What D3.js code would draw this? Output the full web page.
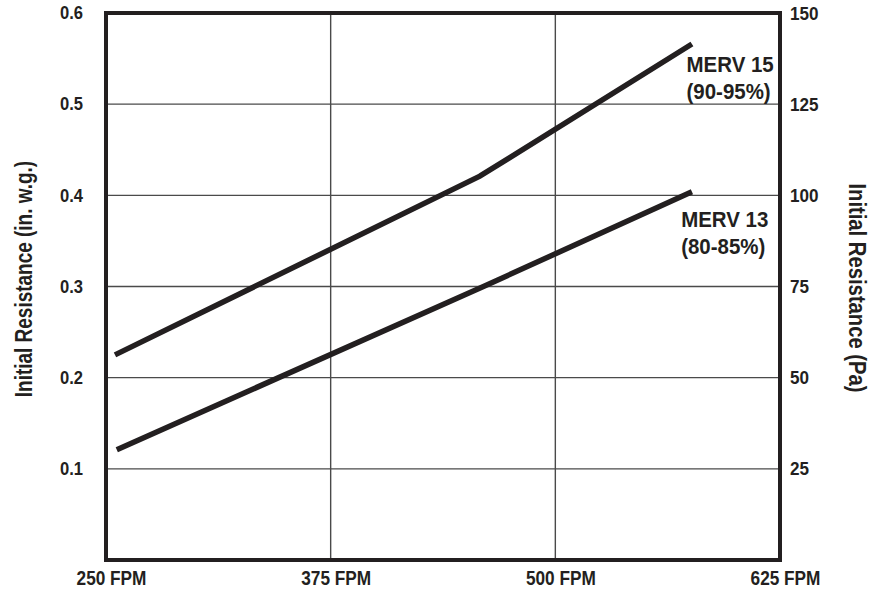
<!DOCTYPE html>
<html lang="en">
  <head>
    <meta charset="UTF-8" />
    <title>Initial Resistance vs Face Velocity</title>
    <script src="https://d3js.org/d3.v7.min.js"></script>
    <style>
      body { margin: 0; background: #fff; }
      text { font-family: "Liberation Sans", Arial, sans-serif; font-weight: bold; fill: #231f20; }
    </style>
  </head>
  <body>
    <div id="chart"></div>

    <script>
      // velocity ticks (FPM) and resistance ticks
      const xTicks = [250, 375, 500, 625];
      const yTicksIn = [0.1, 0.2, 0.3, 0.4, 0.5, 0.6];
      const yTicksPa = [25, 50, 75, 100, 125, 150];

      const merv15 = [
        { fpm: 255, wg: 0.225 },
        { fpm: 458, wg: 0.421 },
        { fpm: 576, wg: 0.566 },
      ];
      const merv13 = [
        { fpm: 256, wg: 0.121 },
        { fpm: 460, wg: 0.3 },
        { fpm: 576, wg: 0.404 },
      ];
      const labels = [
        { lines: ["MERV 15", "(90-95%)"], fpm: 573, wg: 0.535 },
        { lines: ["MERV 13", "(80-85%)"], fpm: 570, wg: 0.365 },
      ];

      const margin = { top: 13, right: 90, bottom: 32, left: 106 },
        width = 870 - margin.left - margin.right,
        height = 592 - margin.top - margin.bottom;

      // the original uses a condensed face; squeeze the regular one
      function condense(sel, k) {
        sel.each(function () {
          const w = this.getComputedTextLength();
          d3.select(this).attr("textLength", w * k).attr("lengthAdjust", "spacingAndGlyphs");
        });
      }

      const svg = d3
        .select("#chart")
        .append("svg")
        .attr("width", 870)
        .attr("height", 592)
        .append("g")
        .attr("transform", `translate(${margin.left},${margin.top})`);

      const x = d3.scaleLinear().domain([250, 625]).range([0, width]);
      const y = d3.scaleLinear().domain([0, 0.6]).range([height, 0]);
      const yPa = d3.scaleLinear().domain([0, 150]).range([height, 0]);

      // grid
      svg
        .append("g")
        .selectAll("line")
        .data(yTicksIn.slice(0, -1))
        .join("line")
        .attr("x1", 0)
        .attr("x2", width)
        .attr("y1", (d) => y(d))
        .attr("y2", (d) => y(d))
        .attr("stroke", "#4a4a4a")
        .attr("stroke-width", 1.4);
      svg
        .append("g")
        .selectAll("line")
        .data(xTicks.slice(1, -1))
        .join("line")
        .attr("x1", (d) => x(d))
        .attr("x2", (d) => x(d))
        .attr("y1", 0)
        .attr("y2", height)
        .attr("stroke", "#4a4a4a")
        .attr("stroke-width", 1.4);

      // axes
      const left = svg
        .append("g")
        .call(d3.axisLeft(y).tickValues(yTicksIn).tickSize(0).tickPadding(23).tickFormat(d3.format(".1f")));
      const right = svg
        .append("g")
        .attr("transform", `translate(${width},0)`)
        .call(d3.axisRight(yPa).tickValues(yTicksPa).tickSize(0).tickPadding(10));
      const bottom = svg
        .append("g")
        .attr("transform", `translate(0,${height})`)
        .call(d3.axisBottom(x).tickValues(xTicks).tickSize(0).tickPadding(10).tickFormat((d) => d + " FPM"));
      [left, right, bottom].forEach((g) => {
        g.select(".domain").remove();
        g.selectAll("text").attr("fill", "#231f20");
      });
      left.selectAll("text").style("font-size", "18px").call(condense, 0.92);
      right.selectAll("text").style("font-size", "19px").call(condense, 0.9);
      bottom.selectAll("text").style("font-size", "21px").attr("dx", 5).call(condense, 0.82);

      // frame
      svg
        .append("rect")
        .attr("width", width)
        .attr("height", height)
        .attr("fill", "none")
        .attr("stroke", "#231f20")
        .attr("stroke-width", 4);

      // curves
      const line = d3
        .line()
        .x((d) => x(d.fpm))
        .y((d) => y(d.wg));
      svg
        .selectAll(".curve")
        .data([merv15, merv13])
        .join("path")
        .attr("class", "curve")
        .attr("d", line)
        .attr("fill", "none")
        .attr("stroke", "#231f20")
        .attr("stroke-width", 5.5);

      // curve labels
      labels.forEach((l) => {
        l.lines.forEach((t, i) => {
          svg
            .append("text")
            .attr("x", x(l.fpm))
            .attr("y", y(l.wg) + i * 27)
            .style("font-size", "22px")
            .text(t)
            .call(condense, 0.93);
        });
      });

      // axis titles
      svg
        .append("text")
        .attr("transform", `translate(${32 - margin.left},${279 - margin.top}) rotate(-90)`)
        .attr("text-anchor", "middle")
        .style("font-size", "24px")
        .text("Initial Resistance (in. w.g.)")
        .call(condense, 0.79);
      svg
        .append("text")
        .attr("transform", `translate(${849 - margin.left},${288 - margin.top}) rotate(90)`)
        .attr("text-anchor", "middle")
        .style("font-size", "23px")
        .text("Initial Resistance (Pa)")
        .call(condense, 0.88);
    </script>
  </body>
</html>
